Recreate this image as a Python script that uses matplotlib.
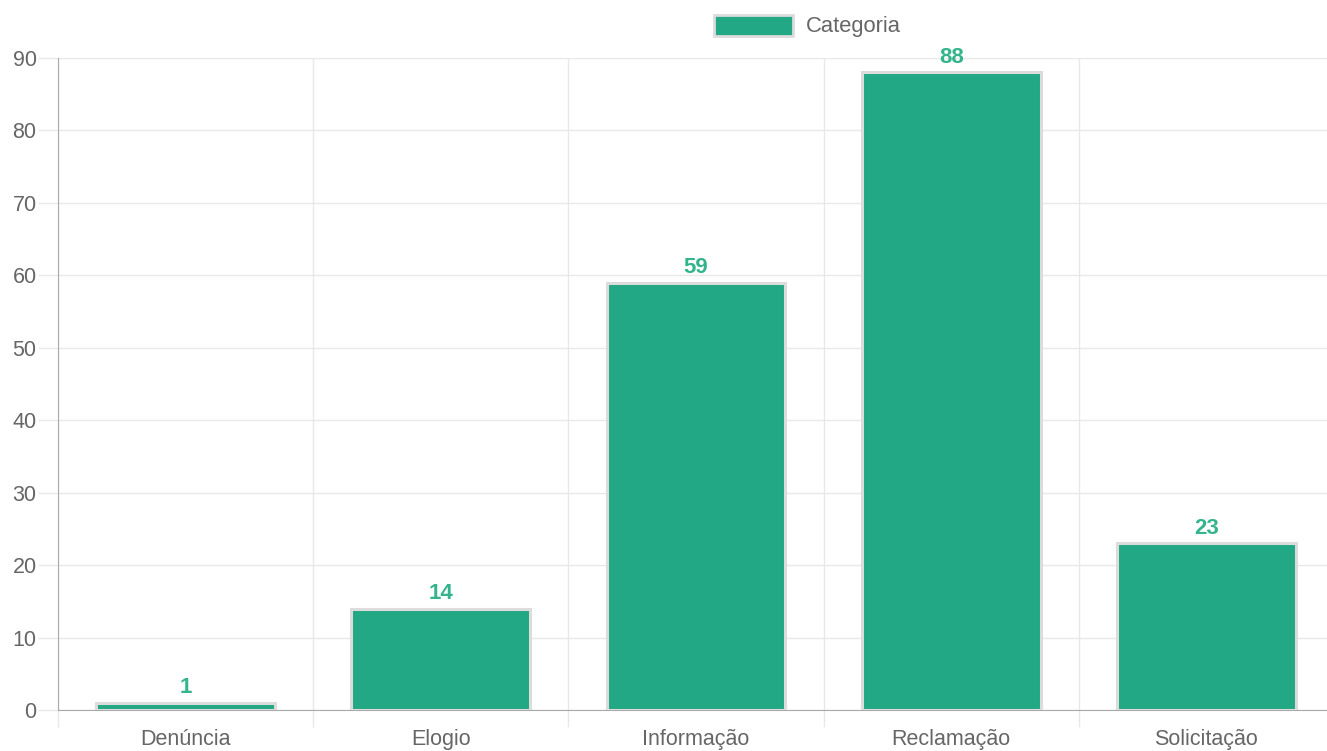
import numpy as np
import matplotlib.pyplot as plt
from matplotlib.patches import Patch

categories = ["Denúncia", "Elogio", "Informação", "Reclamação", "Solicitação"]
values = [1, 14, 59, 88, 23]
series_name = "Categoria"

plt.rcParams['font.family'] = ['Liberation Sans', 'DejaVu Sans']

fig = plt.figure(figsize=(13.27, 7.51), dpi=100)
W, H = 1327, 751
# plot area in pixels: left 58, right 1334, top 58, bottom 710
ax = fig.add_axes([58 / W, 1 - 710 / H, (1334 - 58) / W, (710 - 58) / H])

x = np.arange(len(categories))
bar_color = '#22a884'
ax.bar(x, values, width=0.7, color=bar_color, edgecolor='#dcdcdc', linewidth=2.2, zorder=3)

for xi, v in zip(x, values):
    ax.annotate(str(v), (xi, v), xytext=(0, 3.5), textcoords='offset points',
                ha='center', va='bottom', fontsize=16, fontweight='bold',
                color='#34b48c', zorder=4)

ax.set_xlim(-0.5, len(categories) - 0.5)
ax.set_ylim(0, 90)
ax.set_yticks(np.arange(0, 91, 10))
ax.set_xticks(x)
ax.set_xticklabels(categories)
ax.set_xticks(np.arange(-0.5, len(categories), 1), minor=True)

ax.grid(axis='y', which='major', color='#e8e8e8', linewidth=1, zorder=0)
ax.grid(axis='x', which='minor', color='#e8e8e8', linewidth=1, zorder=0)
ax.tick_params(axis='x', which='major', length=0, pad=14, labelsize=15.5, labelcolor='#666666')
ax.tick_params(axis='x', which='minor', length=12, color='#e8e8e8', width=1)
ax.tick_params(axis='y', length=14.4, color='#e8e8e8', width=1, pad=1,
               labelsize=15.5, labelcolor='#666666')

for s in ['top', 'right']:
    ax.spines[s].set_visible(False)
ax.spines['left'].set_color('#aaaaaa')
ax.spines['bottom'].set_color('#aaaaaa')

handle = Patch(facecolor=bar_color, edgecolor='#dcdcdc', linewidth=2)
fig.legend([handle], [series_name], loc='center left',
           bbox_to_anchor=(714 / W, 1 - 26 / H), frameon=False,
           handlelength=3.58, handleheight=1.1, handletextpad=0.6,
           borderpad=0, borderaxespad=0, fontsize=15.8, labelcolor='#666666')

fig.savefig('out.png', dpi=100)
